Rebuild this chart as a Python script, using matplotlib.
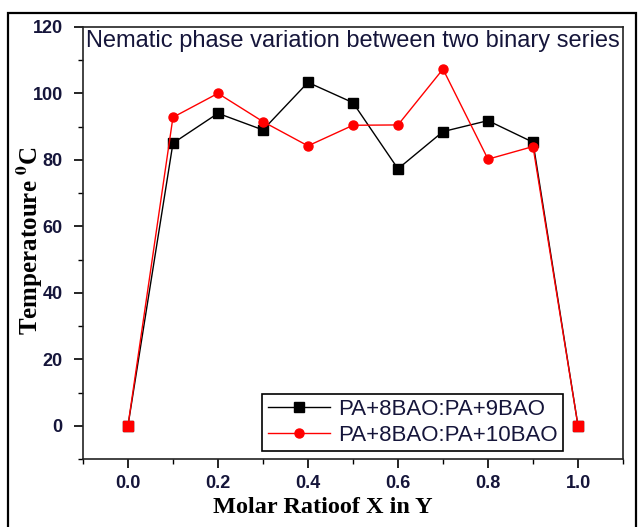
"""Nematisk fasvariation för två binära serier (temperatur mot molförhållande)."""

import matplotlib

matplotlib.use("Agg")
import matplotlib.pyplot as plt
from matplotlib.patches import Rectangle
from matplotlib.ticker import AutoMinorLocator, MultipleLocator

# Molförhållande X i Y och nematisk temperatur (°C) per serie
molar_ratio = [0.0, 0.1, 0.2, 0.3, 0.4, 0.5, 0.6, 0.7, 0.8, 0.9, 1.0]
temp_9bao = [0, 85, 94, 89, 103.3, 97.2, 77.3, 88.5, 91.8, 85.3, 0]
temp_10bao = [0, 92.8, 100, 91.5, 84.2, 90.4, 90.5, 107.3, 80.2, 84, 0]

label_9bao = "PA+8BAO:PA+9BAO"
label_10bao = "PA+8BAO:PA+10BAO"
title = "Nematic phase variation between two binary series"

plt.rcParams["mathtext.fontset"] = "stix"
tick_color = "#15153a"

fig = plt.figure(figsize=(6.38, 5.27), dpi=100)
ax = fig.add_axes([0.130, 0.129, 0.8465, 0.820])

ax.plot(molar_ratio, temp_9bao, color="black", lw=1.0, marker="s",
        ms=6.5, mfc="black", mec="black", label=label_9bao, zorder=3)

# Röd serie: cirklar inuti, kvadrater vid ändpunkterna
inner = list(range(1, len(molar_ratio) - 1))
ax.plot(molar_ratio, temp_10bao, color="red", lw=1.0, marker="o",
        ms=6.5, mfc="red", mec="red", markevery=inner, label=label_10bao, zorder=4)
ends = [0, len(molar_ratio) - 1]
ax.plot([molar_ratio[i] for i in ends], [temp_10bao[i] for i in ends],
        ls="none", marker="s", ms=7, color="red", zorder=5)

ax.set_xlim(-0.1, 1.1)
ax.set_ylim(-10, 120)
ax.xaxis.set_major_locator(MultipleLocator(0.2))
ax.yaxis.set_major_locator(MultipleLocator(20))
ax.xaxis.set_minor_locator(AutoMinorLocator(2))
ax.yaxis.set_minor_locator(AutoMinorLocator(2))
ax.tick_params(which="major", direction="out", length=6.5, width=1.2, colors="black",
               labelcolor=tick_color, pad=5)
ax.tick_params(axis="y", which="major", pad=8)
ax.tick_params(which="minor", direction="out", length=3.5, width=1.0, colors="black")
ax.set_xticklabels([f"{v:.1f}" for v in ax.get_xticks()])
for lbl in ax.get_xticklabels() + ax.get_yticklabels():
    lbl.set_fontfamily("Liberation Sans")
    lbl.set_fontweight("bold")
    lbl.set_fontsize(13)

for sp in ax.spines.values():
    sp.set_linewidth(1.2)
    sp.set_color("#222222")

ax.text(0.006, 0.992, title, transform=ax.transAxes, ha="left", va="top",
        fontfamily="Liberation Sans", fontsize=17, color=tick_color)

ax.set_xlabel("Molar Ratioof X in Y", fontfamily="Liberation Serif",
              fontweight="bold", fontsize=17.5)
ax.xaxis.set_label_coords(0.444, -0.088)
ax.set_ylabel(r"Temperatoure $\mathbf{^0}$C", fontfamily="Liberation Serif",
              fontweight="bold", fontsize=18)
ax.yaxis.set_label_coords(-0.071, 0.505)

leg = ax.legend(loc="lower right", bbox_to_anchor=(0.889, 0.018), frameon=True,
                fancybox=False, edgecolor="black", framealpha=1,
                prop={"family": "Liberation Sans", "size": 16},
                handlelength=2.8, borderpad=0.25, labelspacing=0.2,
                handletextpad=0.35, borderaxespad=0)
leg.get_frame().set_linewidth(1.2)
for t in leg.get_texts():
    t.set_color(tick_color)

# Yttre ram runt hela figuren
fig.patches.append(Rectangle((0.0125, -0.02), 0.9845, 0.995, transform=fig.transFigure,
                             fill=False, lw=1.6, edgecolor="black"))

fig.savefig("out.png", dpi=100)
